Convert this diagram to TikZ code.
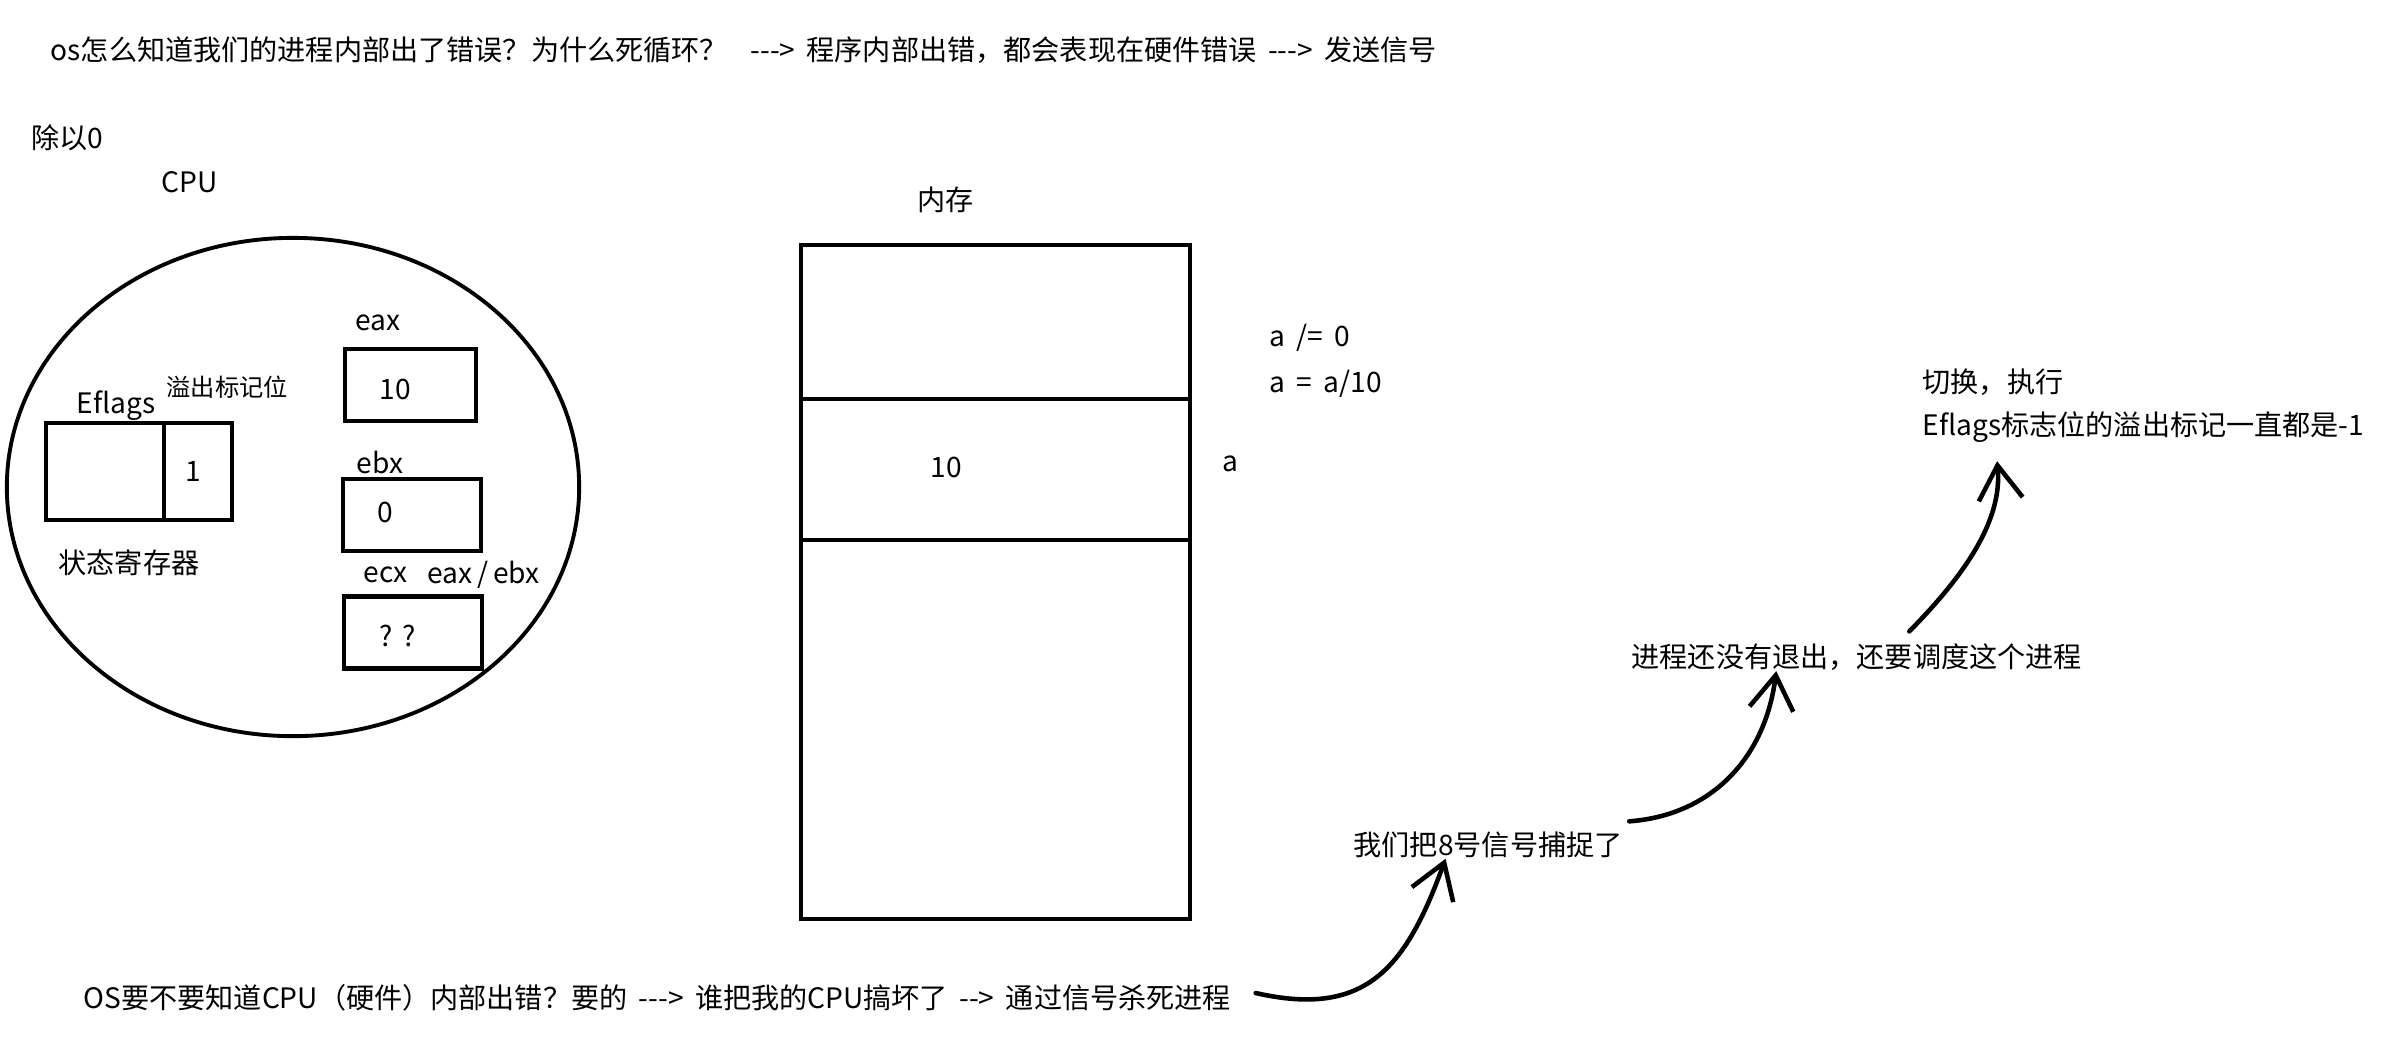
\documentclass[tikz,border=0pt]{standalone}
\usepackage{fontspec}
\setmainfont{Noto Sans CJK SC}[WordSpace=1.8]
\usepackage{tikz}
\usetikzlibrary{arrows.meta}
\tikzstyle{txt} = [inner sep=0pt, anchor=west, font=\fontsize{8}{9.5}\selectfont]
\tikzstyle{small} = [inner sep=0pt, anchor=west, font=\fontsize{6.9}{8}\selectfont]
\tikzstyle{reg} = [rectangle, draw=black, line width=1.3pt, minimum width=1.38cm, minimum height=0.72cm, inner sep=0pt]
\tikzstyle{cell} = [line width=1.3pt]
\tikzstyle{arrow} = [line width=1.3pt, line cap=round, -{Straight Barb[length=3.4mm,width=4.4mm]}]

\begin{document}
\begin{tikzpicture}[x=0.01cm, y=-0.01cm]
\useasboundingbox (0,0) rectangle (2403,1056);
\node (title) [txt] at (50,50) {os怎么知道我们的进程内部出了错误？为什么死循环？\hspace{0.8em}-{}-{}-> 程序内部出错，都会表现在硬件错误 -{}-{}-> 发送信号};
\node (div0) [txt] at (31,138) {除以0};
\node (cpu) [txt] at (161,182) {CPU};
\node (mem) [txt] at (917,200) {内存};

% cpu
\draw[line width=1.1pt] (293,487) ellipse [x radius=2.86cm, y radius=2.49cm];
\draw[cell] (46,423) rectangle (164,520) (164,423) rectangle (232,520);
\node (flag) [txt] at (76,406) {Eflags};
\node (ovf) [small] at (166,387) {溢出标记位};
\node (one) [txt, anchor=center] at (193,471) {1};
\node (state) [txt] at (58,563) {状态寄存器};
\node (eaxbox) [reg, minimum width=1.31cm] at (410.5,385) {};
\node (ebxbox) [reg] at (412,515) {};
\node (ecxbox) [reg] at (413,632.5) {};
\node (eax) [txt] at (355,323) {eax};
\node (ebx) [txt] at (356,462) {ebx};
\node (ecx) [txt] at (363,575) {ecx};
\node (div) [txt] at (427,575) {eax\hspace{0.17em}/\hspace{0.17em}ebx};
\node (eaxval) [txt] at (379,389) {10};
\node (ebxval) [txt] at (377,512) {0};
\node (ecxval) [txt] at (379,636) {?\hspace{0.35em}?};

% memory
\draw[cell] (801,245) rectangle (1190,919);
\draw[cell] (801,399) -- (1190,399) (801,540) -- (1190,540);
\node (aval) [txt] at (930,467) {10};
\node (a) [txt] at (1222,464) {a};
\node (code1) [txt] at (1269,338) {a /= 0};
\node (code2) [txt] at (1269,384) {a = a/10};

% right side
\node (switch) [txt] at (1922,382) {切换，执行};
\node (flagline) [txt] at (1922,427) {Eflags标志位的溢出标记一直都是-1};
\node (proc) [txt] at (1631,657) {进程还没有退出，还要调度这个进程};
\node (catch) [txt] at (1353,845) {我们把8号信号捕捉了};
\node (bottom) [txt] at (83,998) {OS要不要知道CPU（硬件）内部出错？要的 -{}-{}-> 谁把我的CPU搞坏了 -{}-> 通过信号杀死进程};

\draw[arrow] ([xshift=0.24cm,yshift=0.05cm]bottom.east) .. controls +(110,25) and +(-40,110) .. ([xshift=-0.425cm]catch.south);
\draw[arrow] ([xshift=0.06cm,yshift=0.1cm]catch.north east) .. controls +(82,-6) and +(-11,87) .. ([xshift=-0.805cm]proc.south);
\draw[arrow] ([xshift=0.525cm,yshift=0.115cm]proc.north) .. controls +(51,-52) and +(6,62) .. ([xshift=0.75cm,yshift=-0.18cm]flagline.south west);
\end{tikzpicture}
\end{document}
